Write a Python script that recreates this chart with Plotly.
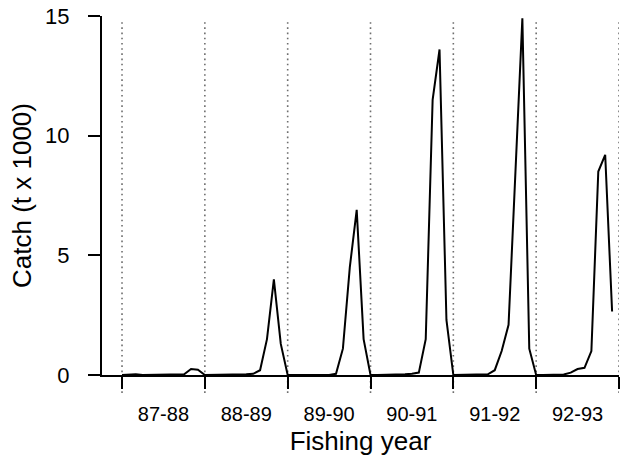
import plotly.graph_objects as go

# ---- data ----
fishing_years = ["87-88", "88-89", "89-90", "90-91", "91-92", "92-93"]
months = list(range(72))  # month index from start of 87-88 fishing year
catch_87_88 = [0, 0.03, 0.03, 0, 0, 0, 0, 0, 0, 0.03, 0.25, 0.22]
catch_88_89 = [0, 0, 0, 0, 0.02, 0.02, 0.03, 0.05, 0.2, 1.5, 4.0, 1.3]
catch_89_90 = [0, 0, 0, 0, 0, 0, 0, 0.05, 1.1, 4.5, 6.9, 1.5]
catch_90_91 = [0, 0, 0, 0, 0.02, 0.03, 0.05, 0.1, 1.5, 11.5, 13.6, 2.3]
catch_91_92 = [0, 0, 0, 0.02, 0.03, 0.03, 0.2, 1.0, 2.1, 8.5, 14.9, 1.1]
catch_92_93 = [0, 0, 0, 0, 0.02, 0.1, 0.25, 0.3, 1.0, 8.5, 9.2, 2.65]
catch = catch_87_88 + catch_88_89 + catch_89_90 + catch_90_91 + catch_91_92 + catch_92_93
year_bounds = [0, 12, 24, 36, 48, 60, 72]
year_centres = [6, 18, 30, 42, 54, 66]
y_ticks = [0, 5, 10, 15]

FONT = "Liberation Sans, Arial, Helvetica, sans-serif"

fig = go.Figure()
fig.add_trace(go.Scatter(x=months, y=catch, mode="lines",
                         line=dict(color="black", width=2), showlegend=False,
                         hoverinfo="skip"))

for b in year_bounds:
    fig.add_shape(type="line", xref="x", yref="paper", x0=b, x1=b, y0=-0.05, y1=0.986,
                  line=dict(color="#6e6e6e", width=1.6, dash="1.6px,3.6px"), layer="below")

fig.update_layout(
    width=628, height=458,
    margin=dict(l=102, r=9, t=16, b=83),
    plot_bgcolor="white", paper_bgcolor="white",
    font=dict(family=FONT, color="black"),
    xaxis=dict(range=[-2.9, 72], showgrid=False, zeroline=False, automargin=False,
               showline=True, linecolor="black", linewidth=2,
               tickmode="array", tickvals=year_centres, ticktext=fishing_years,
               ticks="", tickfont=dict(size=20, family=FONT), ticklabelstandoff=20,
               minor=dict(tickmode="array", tickvals=year_bounds, ticks="outside",
                          ticklen=12, tickwidth=2, tickcolor="black", showgrid=False),
               title=dict(text="Fishing year", font=dict(size=26, family=FONT), standoff=8)),
    yaxis=dict(range=[0, 15], showgrid=False, zeroline=False, automargin=False,
               showline=True, linecolor="black", linewidth=2,
               tickmode="array", tickvals=y_ticks,
               ticks="outside", ticklen=12, tickwidth=2, tickcolor="black",
               tickfont=dict(size=22, family=FONT), ticklabelstandoff=14,
               title=dict(text="Catch (t x 1000)", font=dict(size=26, family=FONT), standoff=6)),
)

fig.write_html("out.html")
